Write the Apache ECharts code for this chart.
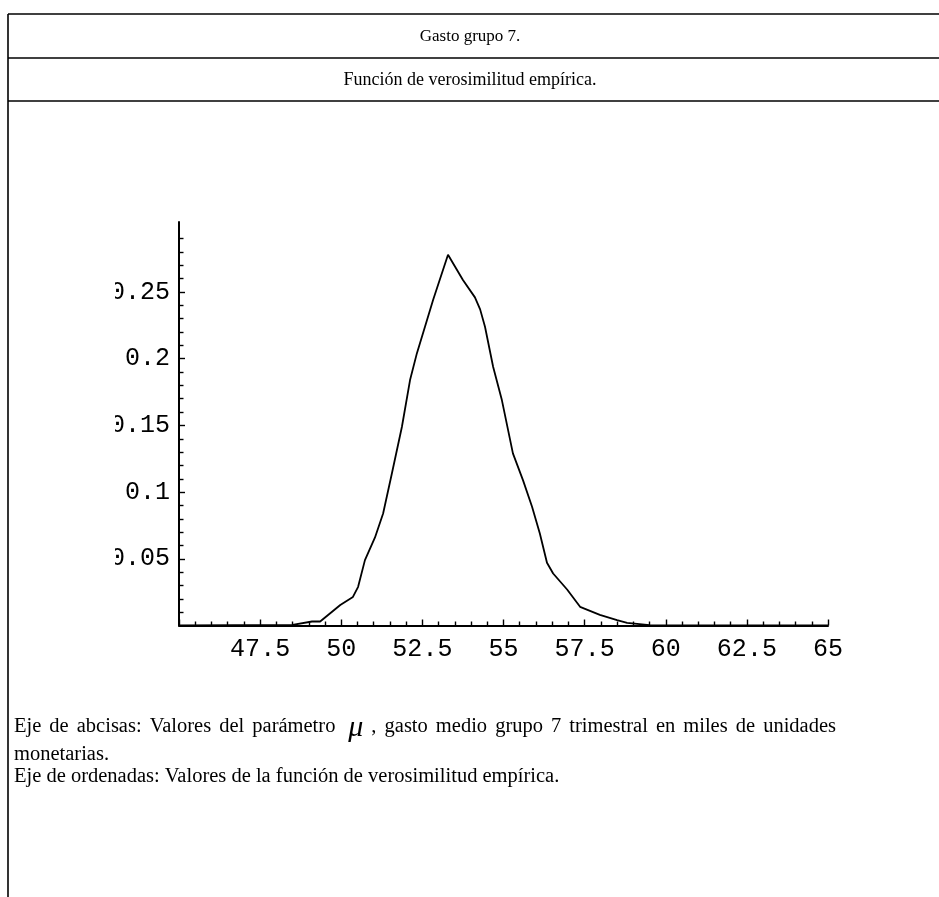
<!DOCTYPE html>
<html>
<head>
<meta charset="utf-8">
<title>Gasto grupo 7</title>
<script src="https://cdn.jsdelivr.net/npm/echarts@6/dist/echarts.min.js"></script>
<style>
  html, body { margin: 0; padding: 0; background: #fff; }
  #chart { width: 939px; height: 897px; }
</style>
</head>
<body>
<div id="chart"></div>
<script>
// Values of the parameter mu (thousands of monetary units)
const muValues = [45, 48.5, 49.1, 49.35, 49.97, 50.36, 50.52, 50.73, 51.04, 51.29,
  51.56, 51.87, 52.12, 52.33, 52.58, 52.83, 53.29, 53.75, 54.12, 54.28,
  54.43, 54.68, 54.95, 55.29, 55.6, 55.88, 56.12, 56.34, 56.53, 56.96,
  57.36, 57.97, 58.5, 58.81, 59.5, 65];
// Empirical likelihood at each mu
const likelihood = [0, 0.0005, 0.003, 0.003, 0.0154, 0.0214, 0.029, 0.049, 0.066, 0.084,
  0.114, 0.149, 0.184, 0.204, 0.224, 0.244, 0.278, 0.259, 0.246, 0.237,
  0.224, 0.194, 0.169, 0.129, 0.109, 0.089, 0.069, 0.047, 0.039, 0.027,
  0.014, 0.008, 0.004, 0.002, 0.0003, 0];

// Axis ticks
const xTickLabels = [47.5, 50, 52.5, 55, 57.5, 60, 62.5, 65];
const yMajorTicks = [0.05, 0.1, 0.15, 0.2, 0.25];
const yMinorTicks = [0.01, 0.02, 0.03, 0.04, 0.06, 0.07, 0.08, 0.09, 0.11, 0.12,
  0.13, 0.14, 0.16, 0.17, 0.18, 0.19, 0.21, 0.22, 0.23, 0.24,
  0.26, 0.27, 0.28, 0.29];

const titleText = 'Gasto grupo 7.';
const subtitleText = 'Función de verosimilitud empírica.';
// first caption line is justified word by word; 'μ' is set in a larger italic
const noteAbscissaWords = ['Eje', 'de', 'abcisas:', 'Valores', 'del', 'parámetro', 'μ', ',', 'gasto',
  'medio', 'grupo', '7', 'trimestral', 'en', 'miles', 'de', 'unidades'];
const noteAbscissa2 = 'monetarias.';
const noteOrdinate = 'Eje de ordenadas: Valores de la función de verosimilitud empírica.';

const tickFont = 'Liberation Mono';
const serifFont = 'Liberation Serif';
const captionFont = '20.5px "Liberation Serif"';
const muFont = 'italic 30px "Liberation Serif"';

const chart = echarts.init(document.getElementById('chart'), null, { renderer: 'canvas' });

const seriesData = muValues.map((m, i) => [m, likelihood[i]]);

const frameLine = (x1, y1, x2, y2) => ({
  type: 'line',
  shape: { x1, y1, x2, y2 },
  style: { stroke: '#000', lineWidth: 1.6 },
  silent: true
});

// Lay out a justified line of words between x0 and x1
function justifiedLine(words, x0, x1, y) {
  const ctx = document.createElement('canvas').getContext('2d');
  const fontOf = w => (w === 'μ' ? muFont : captionFont);
  const widths = words.map(w => { ctx.font = fontOf(w); return ctx.measureText(w).width; });
  // relative size of each gap (a little wider around the symbol)
  const gapWeights = words.slice(1).map(w => (w === 'μ' ? 1.6 : 1));
  const total = widths.reduce((a, b) => a + b, 0);
  const weightSum = gapWeights.reduce((a, b) => a + b, 0);
  const unit = (x1 - x0 - total) / weightSum;
  const out = [];
  let x = x0;
  words.forEach((w, i) => {
    out.push({
      type: 'text', x: x, y: y + (w === 'μ' ? 1 : 0),
      style: { text: w, fill: '#000', font: fontOf(w), textAlign: 'left', textVerticalAlign: 'middle' },
      silent: true
    });
    x += widths[i] + (i < gapWeights.length ? gapWeights[i] * unit : 0);
  });
  return out;
}

chart.setOption({
  animation: false,
  backgroundColor: '#fff',
  grid: {
    left: 179, right: 111, top: 222, bottom: 271.5,
    containLabel: false,
    outerBoundsMode: 'none'
  },
  xAxis: {
    type: 'value',
    min: 45, max: 65, interval: 2.5,
    axisLine: { lineStyle: { color: '#000', width: 2 } },
    axisTick: { inside: true, length: 6, lineStyle: { color: '#000', width: 1.4 } },
    minorTick: { show: true, splitNumber: 5, length: 4, lineStyle: { color: '#000', width: 1.4 } },
    axisLabel: {
      customValues: xTickLabels,
      margin: 11,
      color: '#000',
      fontFamily: tickFont,
      fontSize: 25
    },
    splitLine: { show: false },
    minorSplitLine: { show: false }
  },
  yAxis: [
    {
      type: 'value',
      min: 0, max: 0.3025,
      axisLine: { show: true, lineStyle: { color: '#000', width: 2 } },
      axisTick: { show: true, inside: true, length: 6, customValues: yMajorTicks, lineStyle: { color: '#000', width: 1.4 } },
      axisLabel: {
        customValues: yMajorTicks,
        margin: 9,
        color: '#000',
        fontFamily: tickFont,
        fontSize: 25
      },
      splitLine: { show: false }
    },
    {
      type: 'value',
      min: 0, max: 0.3025,
      position: 'left',
      offset: 0,
      axisLine: { show: false },
      axisTick: { show: true, inside: true, length: 4.5, customValues: yMinorTicks, lineStyle: { color: '#000', width: 1.4 } },
      axisLabel: { show: false },
      splitLine: { show: false }
    }
  ],
  series: [{
    type: 'line',
    data: seriesData,
    xAxisIndex: 0,
    yAxisIndex: 0,
    showSymbol: false,
    smooth: false,
    clip: false,
    lineStyle: { color: '#000', width: 1.8 },
    z: 3
  }],
  graphic: [
    // page frame
    frameLine(8, 14, 939, 14),
    frameLine(8, 58, 939, 58),
    frameLine(8, 101, 939, 101),
    frameLine(8, 14, 8, 897),
    // the left edge of the tick-label column is clipped
    {
      type: 'rect',
      shape: { x: 90, y: 270, width: 25, height: 310 },
      style: { fill: '#fff' },
      z: 100,
      silent: true
    },
    {
      type: 'text', x: 470, y: 37,
      style: { text: titleText, fill: '#000', font: '17px ' + serifFont, textAlign: 'center', textVerticalAlign: 'middle' }
    },
    {
      type: 'text', x: 470, y: 80,
      style: { text: subtitleText, fill: '#000', font: '18px ' + serifFont, textAlign: 'center', textVerticalAlign: 'middle' }
    }
  ].concat(justifiedLine(noteAbscissaWords, 14, 836, 727), [
    {
      type: 'text', x: 14, y: 755,
      style: { text: noteAbscissa2, fill: '#000', font: captionFont, textAlign: 'left', textVerticalAlign: 'middle' }
    },
    {
      type: 'text', x: 14, y: 777,
      style: { text: noteOrdinate, fill: '#000', font: captionFont, textAlign: 'left', textVerticalAlign: 'middle' }
    }
  ])
});
</script>
</body>
</html>
